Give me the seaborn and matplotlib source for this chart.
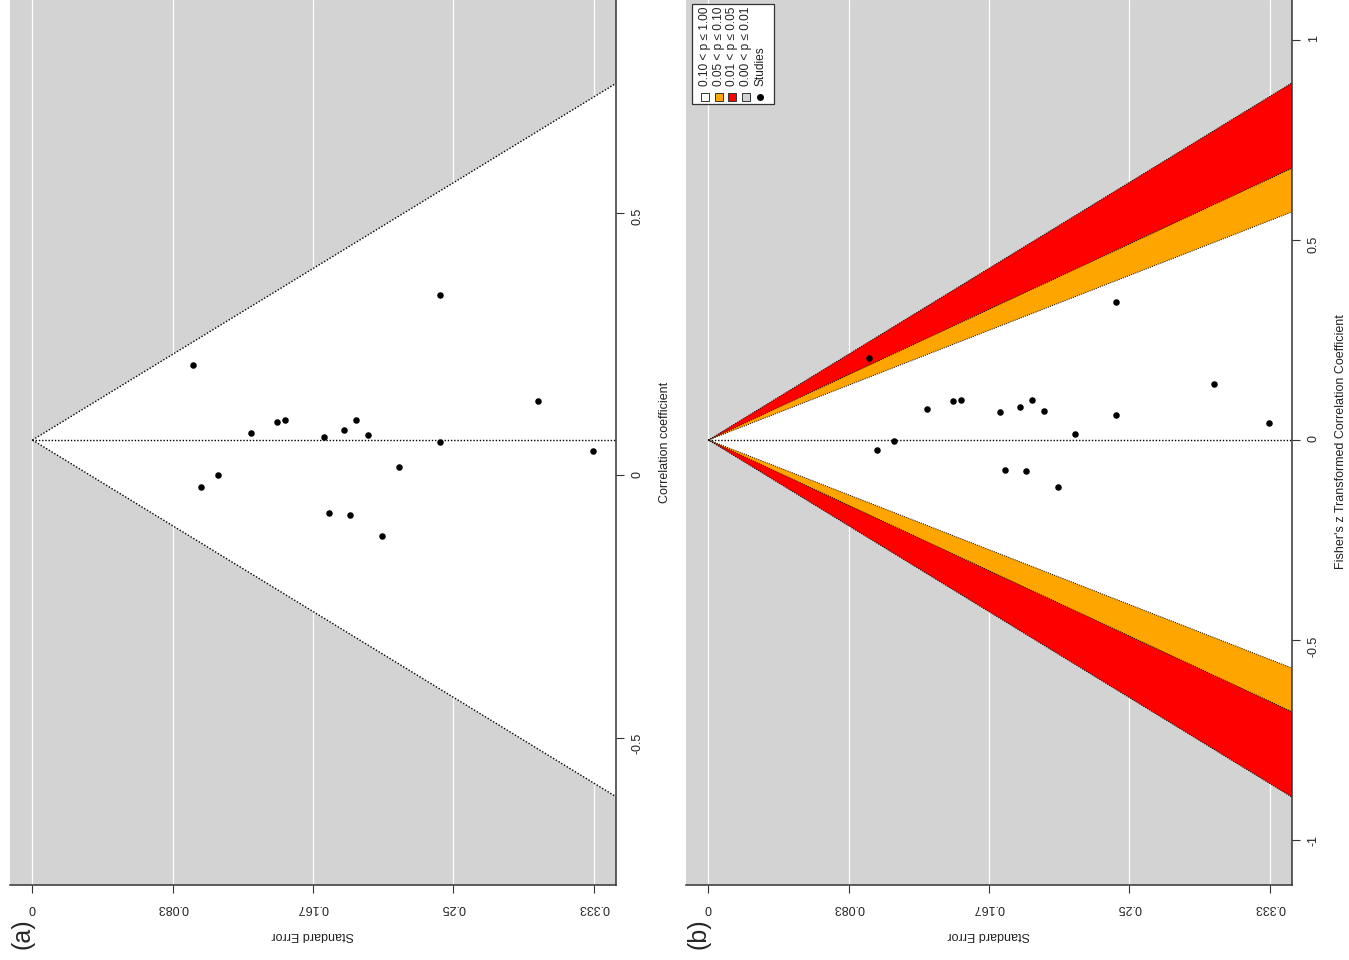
import numpy as np
import pandas as pd
import matplotlib
matplotlib.use("Agg")
import matplotlib.pyplot as plt
import seaborn as sns
from matplotlib.patches import Rectangle
from matplotlib.lines import Line2D

# study standard errors (shared by both panels)
se = [0.2418, 0.0953, 0.3003, 0.1299, 0.1455, 0.1501, 0.1734, 0.1852, 0.1920,
      0.1993, 0.2418, 0.3327, 0.2175, 0.1105, 0.1004, 0.1762, 0.1886, 0.2078]
# panel (a): correlation coefficients
r_vals = [0.343, 0.209, 0.141, 0.080, 0.102, 0.104, 0.073, 0.086, 0.104,
          0.077, 0.063, 0.045, 0.016, 0.000, -0.023, -0.073, -0.076, -0.116]
# panel (b): Fisher's z transformed
z_vals = [0.345, 0.206, 0.139, 0.077, 0.098, 0.101, 0.070, 0.082, 0.101,
          0.073, 0.063, 0.042, 0.016, -0.002, -0.026, -0.076, -0.078, -0.118]

r_est = 0.0667      # pooled estimate (panel a reference line)
z_ref = 0.0         # contour-enhanced reference (panel b)
se_max = 0.3333

se_ticks = [0, 0.0833, 0.1667, 0.25, 0.3333]
se_tick_labels = ["0", "0.083", "0.167", "0.25", "0.333"]
r_ticks = [-0.5, 0, 0.5]
r_tick_labels = ["-0.5", "0", "0.5"]
z_ticks = [-1, -0.5, 0, 0.5, 1]
z_tick_labels = ["-1", "-0.5", "0", "0.5", "1"]

contour_crit = [2.576, 1.96, 1.645]          # outer -> inner
contour_fill = ["#FF0000", "#FFA500", "white"]
legend_labels = ["0.10 < p \u2264 1.00", "0.05 < p \u2264 0.10",
                 "0.01 < p \u2264 0.05", "0.00 < p \u2264 0.01"]
legend_colors = ["white", "#FFA500", "#FF0000", "#D3D3D3"]

df = pd.DataFrame({"se": se, "r": r_vals, "z": z_vals})

sns.set_style("darkgrid", {"axes.facecolor": "#D3D3D3", "grid.color": "white"})
plt.rcParams['font.family'] = ['Liberation Sans', 'DejaVu Sans']

W, H = 1349, 960
fig = plt.figure(figsize=(W / 100, H / 100), dpi=100)
fig.patch.set_facecolor("white")

def px(x, y):
    return x / W, 1 - y / H

ax_a = fig.add_axes([10 / W, 75 / H, 606 / W, 885 / H])
ax_b = fig.add_axes([686 / W, 75 / H, 606 / W, 885 / H])

se_lim = (-0.04 * se_max, 1.04 * se_max)
dot = (0, (1, 1.3))
spine_col = "#333333"
txt_col = "#222222"


def style_axes(ax, yticks, ylabels):
    ax.set_xlim(se_lim)
    ax.set_xticks(se_ticks)
    ax.set_xticklabels(se_tick_labels)
    ax.set_yticks(yticks)
    ax.set_yticklabels(ylabels)
    ax.yaxis.tick_right()
    ax.grid(axis="y", visible=False)
    ax.grid(axis="x", color="white", linewidth=0.9)
    for side in ["top", "left"]:
        ax.spines[side].set_visible(False)
    for side in ["bottom", "right"]:
        ax.spines[side].set_visible(True)
        ax.spines[side].set_color(spine_col)
        ax.spines[side].set_linewidth(1.1)
    ax.tick_params(axis="x", bottom=True, length=5.5, width=0.8, color=spine_col,
                   labelrotation=180, labelsize=9, pad=7, labelcolor=txt_col)
    ax.tick_params(axis="y", right=True, left=False, length=5.5, width=0.8, color=spine_col,
                   labelrotation=90, labelsize=9, pad=6, labelcolor=txt_col)
    ax.set_xlabel("")
    ax.set_ylabel("")


# ---- panel (a): plain funnel plot ----
xe = np.array([0, se_lim[1]])
ax_a.fill([0, xe[1], xe[1]], [r_est, r_est + 1.96 * xe[1], r_est - 1.96 * xe[1]],
          color="white", zorder=1, linewidth=0)
ax_a.plot(xe, r_est + 1.96 * xe, color="black", ls=dot, lw=1.0, zorder=2)
ax_a.plot(xe, r_est - 1.96 * xe, color="black", ls=dot, lw=1.0, zorder=2)
ax_a.plot(xe, [r_est, r_est], color="black", ls=dot, lw=1.0, zorder=2)
sns.scatterplot(data=df, x="se", y="r", ax=ax_a, color="black", s=22,
                linewidth=0, zorder=3, legend=False)
ax_a.set_ylim(-0.781, 0.905)
style_axes(ax_a, r_ticks, r_tick_labels)

# ---- panel (b): contour-enhanced funnel plot ----
for crit, col in zip(contour_crit, contour_fill):
    ax_b.fill([0, xe[1], xe[1]], [z_ref, z_ref + crit * xe[1], z_ref - crit * xe[1]],
              color=col, zorder=1, linewidth=0)
for crit in contour_crit:
    ax_b.plot(xe, z_ref + crit * xe, color="black", ls=dot, lw=0.7, zorder=2)
    ax_b.plot(xe, z_ref - crit * xe, color="black", ls=dot, lw=0.7, zorder=2)
ax_b.plot(xe, [z_ref, z_ref], color="black", ls=dot, lw=1.0, zorder=2)
sns.scatterplot(data=df, x="se", y="z", ax=ax_b, color="black", s=22,
                linewidth=0, zorder=3, legend=False)
ax_b.set_ylim(-1.1125, 1.1)
style_axes(ax_b, z_ticks, z_tick_labels)

# ---- axis titles (figure is printed rotated) ----
fig.text(*px(313, 935), "Standard Error", rotation=180, ha="center", va="center",
         fontsize=9, color=txt_col)
fig.text(*px(989, 935), "Standard Error", rotation=180, ha="center", va="center",
         fontsize=9, color=txt_col)
fig.text(*px(665, 442), "Correlation coefficient", rotation=90, ha="center", va="center",
         fontsize=9, color=txt_col)
fig.text(*px(1341, 442), "Fisher's z Transformed Correlation Coefficient", rotation=90,
         ha="center", va="center", fontsize=9, color=txt_col)
fig.text(*px(23, 934), "(a)", rotation=90, ha="center", va="center", fontsize=18)
fig.text(*px(698, 934), "(b)", rotation=90, ha="center", va="center", fontsize=18)

# ---- legend of panel (b), drawn rotated ----
fig.add_artist(Rectangle(px(692, 104), 82 / W, 100 / H, transform=fig.transFigure,
                         facecolor="white", edgecolor=spine_col, linewidth=0.9, zorder=5))
col_x = [705, 719, 732, 746, 760]
for x, lab, col in zip(col_x, legend_labels, legend_colors):
    fig.add_artist(Rectangle(px(x - 4, 101), 8 / W, 8 / H, transform=fig.transFigure,
                             facecolor=col, edgecolor=spine_col, linewidth=0.7, zorder=6))
    fig.text(*px(x, 86), lab, rotation=90, ha="center", va="bottom", fontsize=8.6,
             color=txt_col, zorder=6)
fig.add_artist(Line2D([px(col_x[4], 97)[0]], [px(col_x[4], 97)[1]], transform=fig.transFigure,
                      marker="o", markersize=4, color="black", linestyle="none", zorder=6))
fig.text(*px(col_x[4], 86), "Studies", rotation=90, ha="center", va="bottom", fontsize=8.6,
         color=txt_col, zorder=6)

fig.savefig("out.png", dpi=100)
